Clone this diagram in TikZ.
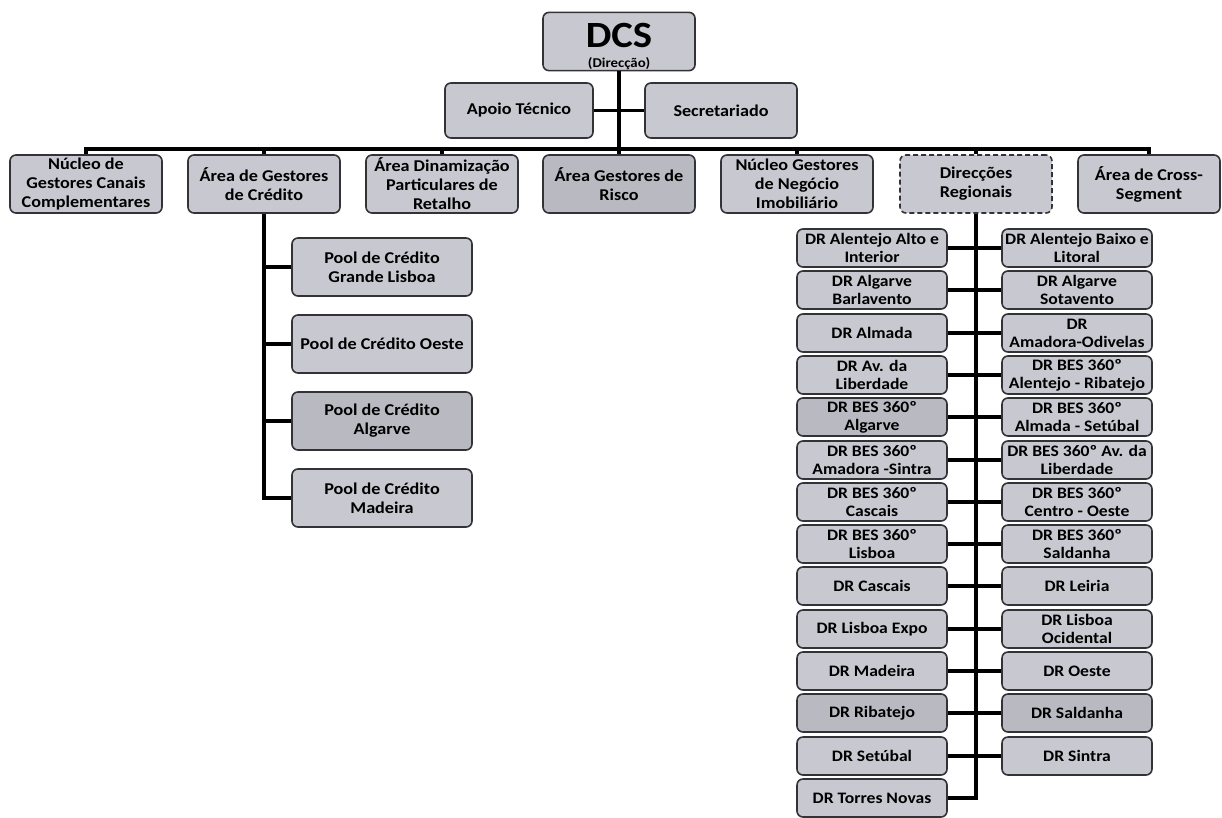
\documentclass[tikz,border=0pt]{standalone}
\usepackage{fontspec}
\setmainfont{Carlito}[FakeStretch=1.1]
\usepackage{tikz}
\usetikzlibrary{positioning}
\definecolor{boxgray}{RGB}{200,201,208}
\definecolor{boxdark}{RGB}{185,186,193}
\definecolor{boxline}{RGB}{50,50,55}

\begin{document}
\begin{tikzpicture}
  [
    x=1pt, y=-1pt,
    Box/.style={rectangle, rounded corners=6pt, draw=boxline, fill=boxgray, line width=1.6pt, align=center, inner sep=1pt, font=\fontsize{16.5}{19}\selectfont\bfseries},
    Top/.style={Box, minimum width=152pt, minimum height=58pt},
    Pool/.style={Box, minimum width=180pt, minimum height=58pt},
    Dr/.style={Box, minimum width=150pt, minimum height=38pt, font=\fontsize{16}{18}\selectfont\bfseries},
    Dashed/.style={Top, dash pattern=on 5pt off 3pt},
    Link/.style={draw, black, line width=3.2pt}
  ]
  \useasboundingbox (0, 0) rectangle (1222, 817);
  % Nodes
  \node[Top, minimum height=57pt, font=\bfseries] (dcs) at(619, 41.5) {\rule{0pt}{34pt}{\fontsize{37}{37}\selectfont DCS}\\[8pt]{\fontsize{13.5}{15}\selectfont (Direcção)}};
  \node[Top, minimum width=148pt, minimum height=55pt] (apoio) at(519, 110.5) {Apoio Técnico};
  \node[Top, minimum height=55pt] (secret) at(721, 110.5) {Secretariado};

  \node[Top] (nucleo) at(86, 184) {Núcleo de\\Gestores Canais\\Complementares};
  \node[Top] (credito) at(264, 184) {Área de Gestores\\de Crédito};
  \node[Top] (dinam) at(442, 184) {Área Dinamização\\Particulares de\\Retalho};
  \node[Top, fill=boxdark] (risco) at(619, 184) {Área Gestores de\\Risco};
  \node[Top] (imob) at(797, 184) {Núcleo Gestores\\de Negócio\\Imobiliário};
  \node[Dashed] (dirreg) at(976, 184) {Direcções\\Regionais};
  \node[Top, minimum width=142pt] (cross) at(1149, 184) {Área de Cross-\\Segment};

  \node[Pool] (pool1) at(382, 267) {Pool de Crédito\\Grande Lisboa};
  \node[Pool] (pool2) at(382, 344) {Pool de Crédito Oeste};
  \node[Pool, fill=boxdark] (pool3) at(382, 421) {Pool de Crédito\\Algarve};
  \node[Pool] (pool4) at(382, 498) {Pool de Crédito\\Madeira};

  \node[Dr] (drl1) at(872, 248) {DR Alentejo Alto e\\Interior};
  \node[Dr] (drl2) at(872, 290) {DR Algarve\\Barlavento};
  \node[Dr] (drl3) at(872, 333) {DR Almada};
  \node[Dr] (drl4) at(872, 375) {DR Av. da\\Liberdade};
  \node[Dr, fill=boxdark] (drl5) at(872, 417) {DR BES 360º\\Algarve};
  \node[Dr] (drl6) at(872, 460) {DR BES 360º\\Amadora -Sintra};
  \node[Dr] (drl7) at(872, 502) {DR BES 360º\\Cascais};
  \node[Dr] (drl8) at(872, 544) {DR BES 360º\\Lisboa};
  \node[Dr] (drl9) at(872, 586) {DR Cascais};
  \node[Dr] (drl10) at(872, 629) {DR Lisboa Expo};
  \node[Dr] (drl11) at(872, 671) {DR Madeira};
  \node[Dr, fill=boxdark] (drl12) at(872, 713) {DR Ribatejo};
  \node[Dr] (drl13) at(872, 756) {DR Setúbal};
  \node[Dr] (drl14) at(872, 798) {DR Torres Novas};

  \node[Dr] (drr1) at(1077, 248) {DR Alentejo Baixo e\\Litoral};
  \node[Dr] (drr2) at(1077, 290) {DR Algarve\\Sotavento};
  \node[Dr] (drr3) at(1077, 333) {DR\\Amadora-Odivelas};
  \node[Dr] (drr4) at(1077, 375) {DR BES 360º\\Alentejo - Ribatejo};
  \node[Dr] (drr5) at(1077, 417) {DR BES 360º\\Almada - Setúbal};
  \node[Dr] (drr6) at(1077, 460) {DR BES 360º Av. da\\Liberdade};
  \node[Dr] (drr7) at(1077, 502) {DR BES 360º\\Centro - Oeste};
  \node[Dr] (drr8) at(1077, 544) {DR BES 360º\\Saldanha};
  \node[Dr] (drr9) at(1077, 586) {DR Leiria};
  \node[Dr] (drr10) at(1077, 629) {DR Lisboa\\Ocidental};
  \node[Dr] (drr11) at(1077, 671) {DR Oeste};
  \node[Dr, fill=boxdark] (drr12) at(1077, 713) {DR Saldanha};
  \node[Dr] (drr13) at(1077, 756) {DR Sintra};
  \coordinate (bus) at(619, 149);
  % Lines
  \path [Link] (dcs) -- (risco);
  \path [Link] (apoio) -- (secret);
  \path [Link] (nucleo) |- (bus) -| (cross);
  \path [Link] (bus -| credito) -- (credito);
  \path [Link] (bus -| dinam) -- (dinam);
  \path [Link] (bus -| imob) -- (imob);
  \path [Link] (bus -| dirreg) -- (dirreg);

  \path [Link] (credito) |- (pool4);
  \path [Link] (credito |- pool1) -- (pool1);
  \path [Link] (credito |- pool2) -- (pool2);
  \path [Link] (credito |- pool3) -- (pool3);

  \path [Link] (dirreg) |- (drl14);
  \path [Link] (drl1) -- (drl1 -| dirreg);
  \path [Link] (drl2) -- (drl2 -| dirreg);
  \path [Link] (drl3) -- (drl3 -| dirreg);
  \path [Link] (drl4) -- (drl4 -| dirreg);
  \path [Link] (drl5) -- (drl5 -| dirreg);
  \path [Link] (drl6) -- (drl6 -| dirreg);
  \path [Link] (drl7) -- (drl7 -| dirreg);
  \path [Link] (drl8) -- (drl8 -| dirreg);
  \path [Link] (drl9) -- (drl9 -| dirreg);
  \path [Link] (drl10) -- (drl10 -| dirreg);
  \path [Link] (drl11) -- (drl11 -| dirreg);
  \path [Link] (drl12) -- (drl12 -| dirreg);
  \path [Link] (drl13) -- (drl13 -| dirreg);
  \path [Link] (dirreg |- drr1) -- (drr1);
  \path [Link] (dirreg |- drr2) -- (drr2);
  \path [Link] (dirreg |- drr3) -- (drr3);
  \path [Link] (dirreg |- drr4) -- (drr4);
  \path [Link] (dirreg |- drr5) -- (drr5);
  \path [Link] (dirreg |- drr6) -- (drr6);
  \path [Link] (dirreg |- drr7) -- (drr7);
  \path [Link] (dirreg |- drr8) -- (drr8);
  \path [Link] (dirreg |- drr9) -- (drr9);
  \path [Link] (dirreg |- drr10) -- (drr10);
  \path [Link] (dirreg |- drr11) -- (drr11);
  \path [Link] (dirreg |- drr12) -- (drr12);
  \path [Link] (dirreg |- drr13) -- (drr13);
\end{tikzpicture}
\end{document}
